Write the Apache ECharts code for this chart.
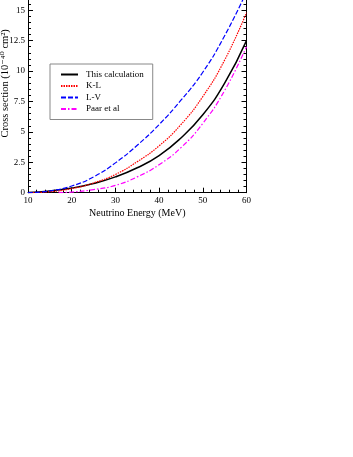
<!DOCTYPE html>
<html><head><meta charset="utf-8">
<script src="https://cdn.jsdelivr.net/npm/echarts@6/dist/echarts.min.js"></script>
<style>html,body{margin:0;padding:0;background:#fff}#c{width:353px;height:457px}</style>
</head><body><div id="c"></div>
<script>
const xTicks = [10, 20, 30, 40, 50, 60];
const yTicks = [0, 2.5, 5, 7.5, 10, 12.5, 15];
const seriesNames = ['This calculation', 'K-L', 'L-V', 'Paar et al'];
const thisCalc = [[10,0.02],[15,0.13],[20,0.38],[25,0.76],[30,1.3],[35,2.05],[40,3.05],[45,4.5],[50,6.4],[55,9.0],[60,12.5]];
const kl = [[10,0.0],[15,0.08],[20,0.33],[25,0.8],[30,1.5],[35,2.55],[40,3.85],[45,5.6],[50,7.9],[55,10.9],[60,14.8]];
const lv = [[10,0.0],[15,0.15],[20,0.55],[25,1.3],[30,2.45],[35,3.9],[40,5.6],[45,7.6],[50,9.9],[55,12.9],[60,16.5]];
const paar = [[17,0.0],[20,0.05],[25,0.25],[30,0.6],[35,1.3],[40,2.3],[45,3.7],[50,5.7],[55,8.4],[60,12.0]];

const font = '"Liberation Serif", "DejaVu Serif", serif';
const chart = echarts.init(document.getElementById('c'));
const axisCommon = {
  axisLine: {show: true, lineStyle: {color: '#000', width: 1}},
  axisTick: {show: true, inside: true, length: 5, lineStyle: {color: '#000'}},
  minorTick: {show: true, splitNumber: 5, length: 3, lineStyle: {color: '#000'}},
  splitLine: {show: false}
};
chart.setOption({
  animation: false,
  grid: {left: 28, right: 106.5, top: -2, bottom: 264.3, show: false, containLabel: false, outerBoundsMode: 'none'},
  xAxis: Object.assign({
    type: 'value', min: xTicks[0], max: xTicks[xTicks.length-1], interval: 10,
    name: 'Neutrino Energy (MeV)', nameLocation: 'middle', nameGap: 16, nameMoveOverlap: false,
    nameTextStyle: {fontFamily: font, fontSize: 10, color: '#000'},
    axisLabel: {fontFamily: font, fontSize: 9, color: '#000', margin: 3}
  }, axisCommon),
  yAxis: [Object.assign({
    type: 'value', min: 0, max: 16, interval: 2.5,
    name: 'Cross section (10\u207B\u2074\u2070 cm\u00B2)', nameLocation: 'middle', nameGap: 17, nameMoveOverlap: false,
    nameTextStyle: {fontFamily: font, fontSize: 10.5, color: '#000', padding: [0, 0, 0, 24]},
    axisLabel: {fontFamily: font, fontSize: 9, color: '#000', margin: 3, showMaxLabel: false}
  }, axisCommon), Object.assign({
    type: 'value', min: 0, max: 16, interval: 2.5, position: 'right',
    axisLabel: {show: false}
  }, axisCommon)],
  legend: {
    orient: 'vertical', left: 50, top: 64,
    itemWidth: 17, itemHeight: 8, itemGap: 2.5,
    padding: [6, 9, 6, 10],
    borderColor: '#888', borderWidth: 1,
    itemStyle: {opacity: 0},
    textStyle: {fontFamily: font, fontSize: 9, color: '#000', padding: [0,0,0,3]},
    data: seriesNames
  },
  series: [
    {name: seriesNames[0], type: 'line', data: thisCalc, smooth: true, symbol: 'none', lineStyle: {color: '#000', width: 1.5, type: 'solid'}, itemStyle: {color: '#000'}},
    {name: seriesNames[1], type: 'line', data: kl, smooth: true, symbol: 'none', lineStyle: {color: '#ff0000', width: 1.2, type: [1.5, 1]}, itemStyle: {color: '#ff0000'}},
    {name: seriesNames[2], type: 'line', data: lv, smooth: true, symbol: 'none', lineStyle: {color: '#0000ff', width: 1.2, type: [5, 2]}, itemStyle: {color: '#0000ff'}},
    {name: seriesNames[3], type: 'line', data: paar, smooth: true, symbol: 'none', lineStyle: {color: '#ff00ff', width: 1.2, type: [5, 2, 1.5, 2]}, itemStyle: {color: '#ff00ff'}}
  ]
});
</script></body></html>
